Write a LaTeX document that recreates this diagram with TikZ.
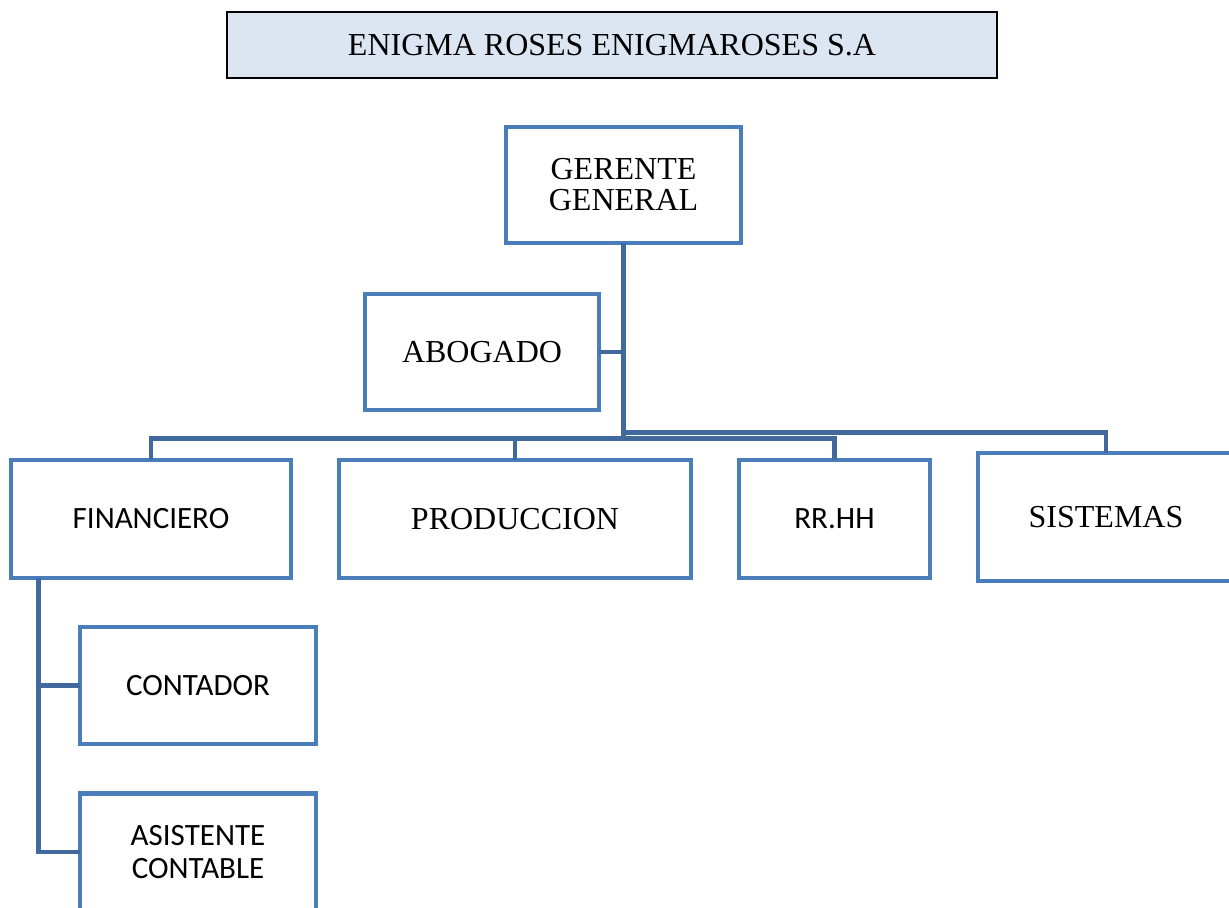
\documentclass[tikz,border=0pt]{standalone}
\usepackage{fontspec}
\setmainfont{Liberation Serif}
\newfontfamily\calibri{Carlito}
\usetikzlibrary{positioning,calc}
\definecolor{boxblue}{HTML}{4A7EBB}
\definecolor{lineblue}{HTML}{41699E}
\definecolor{titlefill}{HTML}{DCE6F2}

\begin{document}
\begin{tikzpicture}[x=0.5pt,y=-0.5pt,
    box/.style={draw=boxblue,line width=2.3pt,fill=white,align=center,inner sep=0pt,
                font=\fontsize{16}{15.5}\selectfont},
    sbox/.style={box,font=\calibri\fontsize{15.5}{16.5}\selectfont},
    title/.style={draw=black,line width=0.6pt,fill=titlefill,inner sep=0pt,
                  font=\fontsize{16}{19}\selectfont},
    conn/.style={draw=lineblue,line width=2.4pt,line cap=rect}]
    \useasboundingbox (0,0) rectangle (1229,907);
    \clip (0,0) rectangle (1229,907);
		\node[title,minimum width=385pt,minimum height=33pt]   (T)  at (612,45)     {ENIGMA ROSES ENIGMAROSES S.A};
		\node[box,minimum width=117.5pt,minimum height=58pt]   (GG) at (623.5,185)  {GERENTE\\GENERAL};
		\node[box,minimum width=117pt,minimum height=58pt]     (AB) at (482,352)    {ABOGADO};
		\node[sbox,minimum width=140pt,minimum height=59pt]    (FI) at (151,519)    {FINANCIERO};
		\node[box,minimum width=176pt,minimum height=59pt]     (PR) at (515,519)    {PRODUCCION};
		\node[sbox,minimum width=95.5pt,minimum height=59pt]   (RH) at (834.5,519)  {RR.HH};
		\node[box,minimum width=128pt,minimum height=64pt]     (SI) at (1106,517)   {SISTEMAS};
		\node[sbox,minimum width=118pt,minimum height=58.5pt]  (CO) at (198,685.5)  {CONTADOR};
		\node[sbox,minimum width=118pt,minimum height=58.5pt]  (AC) at (198,852)    {ASISTENTE\\CONTABLE};
		\coordinate (busL) at ($(GG.south)+(0,193)$);
		\coordinate (busR) at ($(GG.south)+(0,187)$);
		\coordinate (FV)   at ([xshift=15pt]FI.south west);
		\path[conn] (GG.south) -- (busL)
		            (busL) -| (FI.north)
		            (busL) -| (PR.north)
		            (busL) -| (RH.north)
		            (busR) -| (SI.north)
		            (AB.east) -- (AB.east -| GG.south)
		            (FV) |- (CO.west)
		            (FV) |- (AC.west);
\end{tikzpicture}
\end{document}
